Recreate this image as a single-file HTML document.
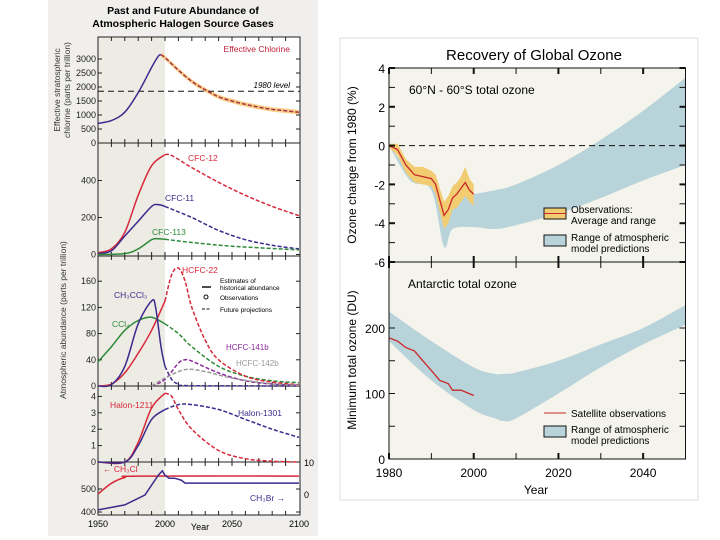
<!DOCTYPE html>
<html><head><meta charset="utf-8"><style>
body{margin:0;background:#fff;width:720px;height:540px;overflow:hidden;font-family:"Liberation Sans",sans-serif}
svg{position:absolute;left:0;top:0}
</style></head><body>
<svg id="c" width="720" height="540"></svg>
<script>
// ---------- Left chart data ----------
const clHistYears=[1950,1960,1970,1980,1990,1995,1997];
const clHistVals=[700,800,1100,1800,2700,3100,3150];
const clFutYears=[1997,2000,2010,2020,2030,2040,2050,2060,2070,2080,2090,2100];
const clFutVals=[3150,3050,2600,2200,1900,1650,1500,1380,1280,1200,1150,1100];
const cfc12Years=[1950,1960,1970,1980,1990,2000,2005,2020,2040,2060,2080,2100];
const cfc12Vals=[10,30,120,320,480,540,535,470,390,320,260,210];
const cfc11Years=[1950,1960,1970,1980,1990,1995,2000,2020,2040,2060,2080,2100];
const cfc11Vals=[5,20,100,180,260,270,260,200,130,80,50,30];
const cfc113Years=[1950,1970,1980,1990,1995,2000,2020,2050,2100];
const cfc113Vals=[0,5,30,80,85,82,65,45,25];
const hcfc22Years=[1950,1960,1970,1980,1990,2000,2005,2010,2015,2020,2030,2040,2060,2080,2100];
const hcfc22Vals=[0,3,20,50,85,130,170,180,160,120,70,40,15,6,2];
const ch3ccl3Years=[1950,1960,1970,1980,1990,1993,1997,2000,2005,2010,2020,2100];
const ch3ccl3Vals=[0,2,30,95,130,120,60,30,10,3,0.5,0];
const ccl4Years=[1950,1960,1970,1980,1990,2000,2010,2020,2040,2060,2080,2100];
const ccl4Vals=[37,60,85,100,105,95,80,60,30,15,8,5];
const h141Years=[1990,2000,2010,2015,2020,2040,2060,2080,2100];
const h141Vals=[0,10,35,40,38,20,8,3,1];
const h142Years=[1990,2000,2015,2030,2050,2080,2100];
const h142Vals=[0,12,25,22,12,3,1];
const h1211Years=[1950,1970,1980,1990,2000,2005,2010,2020,2040,2060,2080,2100];
const h1211Vals=[0,0,1.2,3.3,4.2,4.0,3.2,2.0,0.7,0.2,0.05,0];
const h1301Years=[1950,1970,1980,1990,2000,2010,2020,2040,2060,2080,2100];
const h1301Vals=[0,0,1,2.6,3.2,3.5,3.5,3.2,2.6,2.0,1.5];
const ch3clYears=[1950,1960,1970,1980,2100];
const ch3clVals=[478,525,550,556,556];
const ch3brYears=[1950,1970,1985,1995,1998,2000,2003,2007,2012,2015,2100];
const ch3brVals=[-4.5,-3,0,6,7.3,6,5.1,5.1,4.5,3.6,3.6];
// ---------- Right chart data ----------
const obsYears=[1980,1982,1984,1986,1988,1990,1991,1992,1993,1994,1995,1996,1997,1998,1999,2000];
const obsAvg=[0,-0.2,-1,-1.5,-1.6,-1.7,-2,-2.8,-3.6,-3.3,-2.7,-2.5,-2.2,-1.9,-2.3,-2.5];
const obsHi=[0.1,0.1,-0.7,-1.1,-1.1,-1.3,-1.5,-2.2,-2.9,-2.6,-2.1,-1.9,-1.6,-1.1,-1.7,-2];
const obsLo=[-0.1,-0.5,-1.4,-1.9,-2.0,-2.1,-2.5,-3.4,-4.3,-4.0,-3.3,-3.2,-2.9,-2.6,-2.9,-3.1];
const modYears=[1980,1985,1990,1993,1995,2000,2005,2010,2020,2030,2040,2050];
const modHi=[0,-1.3,-1.8,-3.3,-2.8,-2.5,-2.3,-2,-1.0,0.3,1.8,3.5];
const modLo=[0,-1.8,-2.3,-5.2,-4.3,-4.2,-4.3,-4.1,-3.5,-2.7,-1.8,-1.0];
const antYears=[1980,1990,2000,2005,2007,2010,2020,2030,2040,2050];
const antHi=[225,180,140,130,130,132,150,175,200,235];
const antLo=[180,120,75,62,58,62,100,140,175,205];
const satYears=[1980,1982,1984,1986,1988,1990,1992,1994,1995,1997,2000];
const satVals=[185,180,170,165,150,135,120,115,105,105,97];

const S=document.getElementById('c');const NS='http://www.w3.org/2000/svg';
function el(t,a,p){const e=document.createElementNS(NS,t);for(const k in a)e.setAttribute(k,a[k]);(p||S).appendChild(e);return e;}
function txt(x,y,s,a){const e=el('text',Object.assign({x:x,y:y},a||{}));e.textContent=s;return e;}
function pathOf(ys,vs,fx,fy){return ys.map((y,i)=>(i?'L':'M')+fx(y).toFixed(1)+' '+fy(vs[i]).toFixed(1)).join(' ');}
function smoothPts(pts,move){let d=move?'M'+pts[0][0].toFixed(1)+' '+pts[0][1].toFixed(1):'L'+pts[0][0].toFixed(1)+' '+pts[0][1].toFixed(1);
 for(let i=0;i<pts.length-1;i++){const p0=pts[Math.max(0,i-1)],p1=pts[i],p2=pts[i+1],p3=pts[Math.min(pts.length-1,i+2)];
 const c1=[p1[0]+(p2[0]-p0[0])/6,p1[1]+(p2[1]-p0[1])/6],c2=[p2[0]-(p3[0]-p1[0])/6,p2[1]-(p3[1]-p1[1])/6];
 d+=' C'+c1.map(v=>v.toFixed(1)).join(' ')+' '+c2.map(v=>v.toFixed(1)).join(' ')+' '+p2[0].toFixed(1)+' '+p2[1].toFixed(1);}
 return d;}
function smooth(ys,vs,fx,fy){return smoothPts(ys.map((y,i)=>[fx(y),fy(vs[i])]),true);}
function band(ys,hi,lo,fx,fy){return smooth(ys,hi,fx,fy)+' '+smoothPts(ys.map((y,i)=>[fx(y),fy(lo[i])]).reverse(),false)+'Z';}
function bandRaw(ys,hi,lo,fx,fy){return pathOf(ys,hi,fx,fy)+' '+ys.slice().reverse().map((y,i)=>'L'+fx(y).toFixed(1)+' '+fy(lo[ys.length-1-i]).toFixed(1)).join(' ')+'Z';}

// ===== Left =====
let r=el('rect',{x:48,y:0,width:270,height:536,fill:'#f0efed'});

el('rect',{x:98,y:37,width:202,height:478,fill:'#fff'});
el('rect',{x:98,y:37,width:67,height:478,fill:'#ecebe4'});
const lx=y=>98+(y-1950)*67/50;
let t=txt(183,14,'Past and Future Abundance of',{'font-size':10.5,'font-weight':'bold','text-anchor':'middle'});

txt(183,27,'Atmospheric Halogen Source Gases',{'font-size':10.5,'font-weight':'bold','text-anchor':'middle'});
const panels=[[37,143],[143,256],[256,386],[386,462],[462,515]];
panels.forEach((p,i)=>{let b=el('rect',{x:98,y:p[0],width:202,height:p[1]-p[0],fill:'none',stroke:'#222','stroke-width':1});

for(let yr=1960;yr<2100;yr+=10){el('line',{x1:lx(yr),x2:lx(yr),y1:p[0],y2:p[0]+4,stroke:'#222'});el('line',{x1:lx(yr),x2:lx(yr),y1:p[1],y2:p[1]-4,stroke:'#222'});}});
function yticks(vals,fy,x){vals.forEach(v=>{txt(x,fy(v)+3,String(v),{'font-size':9,'text-anchor':'end',fill:'#222'});el('line',{x1:98,x2:102,y1:fy(v),y2:fy(v),stroke:'#222'});el('line',{x1:300,x2:296,y1:fy(v),y2:fy(v),stroke:'#222'});});}
const f1=v=>143-v*14/500, f2=v=>254.5-v*37/200, f3=v=>386-v*26.2/40, f4=v=>462-v*16.4, f5=v=>512-(v-400)*23/100, f5r=v=>495-v*3.3;
yticks([0,500,1000,1500,2000,2500,3000],f1,96);
yticks([0,200,400],f2,96);
yticks([0,40,80,120,160],f3,96);
yticks([0,1,2,3,4],f4,96);
yticks([400,500],f5,96);
txt(304,466,'10',{'font-size':9});txt(304,498,'0',{'font-size':9});
[1950,2000,2050,2100].forEach(y=>txt(lx(y),527,String(y),{'font-size':9,'text-anchor':'middle'}));
t=txt(200,530,'Year',{'font-size':9,'text-anchor':'middle'});
txt(60,90,'Effective stratospheric',{'font-size':8.5,transform:'rotate(-90 60 90)','text-anchor':'middle',fill:'#333'});
txt(70,90,'chlorine (parts per trillion)',{'font-size':8.5,transform:'rotate(-90 70 90)','text-anchor':'middle',fill:'#333'});
txt(66,320,'Atmospheric abundance (parts per trillion)',{'font-size':8.5,transform:'rotate(-90 66 320)','text-anchor':'middle',fill:'#333'});
el('path',{d:band(clFutYears,clFutVals.map(v=>v+80),clFutVals.map(v=>v-80),lx,f1),fill:'#f7c46a',opacity:.8});
el('line',{x1:98,x2:300,y1:f1(1850),y2:f1(1850),stroke:'#111','stroke-dasharray':'6 4'});
txt(290,f1(1850)-3,'1980 level',{'font-size':8,'font-style':'italic','text-anchor':'end'});
function ln(ys,vs,fy,c,dash,name){let p=el('path',{d:smooth(ys,vs,lx,fy),fill:'none',stroke:c,'stroke-width':1.5,'stroke-dasharray':dash||'none'});}
function split(ys,vs,fy,c,name,cut){const h=[],hv=[],f=[],fv=[];ys.forEach((y,i)=>{if(y<=cut){h.push(y);hv.push(vs[i]);}if(y>=cut){f.push(y);fv.push(vs[i]);}});ln(h,hv,fy,c,null,name+'-historical');ln(f,fv,fy,c,'4 2',name+'-projection');}
ln(clHistYears,clHistVals,f1,'#3c2a8c',null,'effective-chlorine-historical');
ln(clFutYears,clFutVals,f1,'#a8324a','4 2','effective-chlorine-projection');
txt(290,52,'Effective Chlorine',{'font-size':8.5,fill:'#c0203a','text-anchor':'end'});
split(cfc12Years,cfc12Vals,f2,'#d8283a','cfc12-line',2000);
split(cfc11Years,cfc11Vals,f2,'#3c2a8c','cfc11-line',2000);
split(cfc113Years,cfc113Vals,f2,'#2e8a3a','cfc113-line',2000);
txt(188,161,'CFC-12',{'font-size':8.5,fill:'#d8283a'});
txt(165,201,'CFC-11',{'font-size':8.5,fill:'#3c2a8c'});
txt(152,235,'CFC-113',{'font-size':8.5,fill:'#2e8a3a'});
split(ccl4Years,ccl4Vals,f3,'#2e8a3a','ccl4-line',2000);
split(hcfc22Years,hcfc22Vals,f3,'#d8283a','hcfc22-line',2000);
split(ch3ccl3Years,ch3ccl3Vals,f3,'#3c2a8c','ch3ccl3-line',2000);
ln(h141Years,h141Vals,f3,'#8a2a9a','4 2','hcfc141b-line');
ln(h142Years,h142Vals,f3,'#999','4 2','hcfc142b-line');
txt(182,273,'HCFC-22',{'font-size':8.5,fill:'#d8283a'});
txt(114,298,'CH\u2083CCl\u2083',{'font-size':8.5,fill:'#3c2a8c'});
txt(112,327,'CCl\u2084',{'font-size':8.5,fill:'#2e8a3a'});
txt(226,350,'HCFC-141b',{'font-size':8,fill:'#8a2a9a'});
txt(236,366,'HCFC-142b',{'font-size':8,fill:'#999'});
el('line',{x1:202,x2:211,y1:287,y2:287,stroke:'#111','stroke-width':1.5});
txt(220,283,'Estimates of',{'font-size':6.5});txt(220,290,'historical abundance',{'font-size':6.5});
el('circle',{cx:206,cy:297,r:2,fill:'none',stroke:'#111'});txt(220,300,'Observations',{'font-size':6.5});
el('line',{x1:202,x2:211,y1:309,y2:309,stroke:'#111','stroke-dasharray':'3 1.5'});txt(220,312,'Future projections',{'font-size':6.5});
split(h1211Years,h1211Vals,f4,'#d8283a','halon1211-line',2000);
split(h1301Years,h1301Vals,f4,'#3c2a8c','halon1301-line',2000);
txt(110,408,'Halon-1211',{'font-size':8.5,fill:'#d8283a'});
txt(238,416,'Halon-1301',{'font-size':8.5,fill:'#3c2a8c'});
ln(ch3clYears,ch3clVals,f5,'#d8283a',null,'ch3cl-line');
let p=el('path',{d:pathOf(ch3brYears,ch3brVals,lx,f5r),fill:'none',stroke:'#3c2a8c','stroke-width':1.5});
txt(103,472,'\u2190 CH\u2083Cl',{'font-size':8.5,fill:'#d8283a'});
txt(250,501,'CH\u2083Br \u2192',{'font-size':8.5,fill:'#3c2a8c'});

// ===== Right =====
r=el('rect',{x:340,y:38,width:358,height:462,fill:'#fff',stroke:'#ddd'});

const rx=y=>389+(y-1980)*(685.5-389)/70;
const g1=v=>68+(4-v)*19.4, g2=v=>459-v*0.655;
el('rect',{x:389,y:68,width:296.5,height:391,fill:'#f4f4ec'});
t=txt(534,60,'Recovery of Global Ozone',{'font-size':15,'text-anchor':'middle'});
let b1=el('path',{d:band(modYears,modHi,modLo,rx,g1),fill:'#b9d3da'});
el('path',{d:bandRaw(obsYears,obsHi,obsLo,rx,g1),fill:'#f2cc70'});
el('line',{x1:389,x2:685.5,y1:g1(0),y2:g1(0),stroke:'#111','stroke-dasharray':'6 4'});
p=el('path',{d:pathOf(obsYears,obsAvg,rx,g1),fill:'none',stroke:'#c8282a','stroke-width':1.3});
let b2=el('path',{d:band(antYears,antHi,antLo,rx,g2),fill:'#b9d3da'});
p=el('path',{d:pathOf(satYears,satVals,rx,g2),fill:'none',stroke:'#c8282a','stroke-width':1.3});
el('rect',{x:389,y:68,width:296.5,height:194,fill:'none',stroke:'#111'});
el('rect',{x:389,y:262,width:296.5,height:197,fill:'none',stroke:'#111'});
[1980,1990,2000,2010,2020,2030,2040,2050].forEach(y=>{const w=(y%20==0)?2:1;[[68,74],[262,256],[262,268],[459,453]].forEach(q=>el('line',{x1:rx(y),x2:rx(y),y1:q[0],y2:q[1],stroke:'#111','stroke-width':w}));});
[4,3,2,1,0,-1,-2,-3,-4,-5,-6].forEach(v=>{const w=v%2==0?2:1;el('line',{x1:389,x2:395,y1:g1(v),y2:g1(v),stroke:'#111','stroke-width':w});el('line',{x1:685.5,x2:679.5,y1:g1(v),y2:g1(v),stroke:'#111','stroke-width':w});if(v%2==0)txt(385,g1(v)+5,String(v),{'font-size':12,'text-anchor':'end'});});
[0,50,100,150,200].forEach(v=>{el('line',{x1:389,x2:395,y1:g2(v),y2:g2(v),stroke:'#111'});el('line',{x1:685.5,x2:679.5,y1:g2(v),y2:g2(v),stroke:'#111'});if(v%100==0)txt(385,g2(v)+5,String(v),{'font-size':12,'text-anchor':'end'});});
[1980,2000,2020,2040].forEach(y=>txt(rx(y),477,String(y),{'font-size':12,'text-anchor':'middle'}));
t=txt(536,494,'Year',{'font-size':12,'text-anchor':'middle'});
txt(356,165,'Ozone change from 1980 (%)',{'font-size':12,transform:'rotate(-90 356 165)','text-anchor':'middle'});
txt(356,360,'Minimum total ozone (DU)',{'font-size':12,transform:'rotate(-90 356 360)','text-anchor':'middle'});
txt(409,94,'60\u00b0N - 60\u00b0S total ozone',{'font-size':12});
txt(408,288,'Antarctic total ozone',{'font-size':12});
el('rect',{x:544,y:208,width:22,height:11,fill:'#f2cc70',stroke:'#111'});el('line',{x1:544,x2:566,y1:213.5,y2:213.5,stroke:'#c8282a'});
txt(571,213,'Observations:',{'font-size':10});txt(571,224,'Average and range',{'font-size':10});
el('rect',{x:544,y:235,width:22,height:11,fill:'#b9d3da',stroke:'#111'});
txt(571,241,'Range of atmospheric',{'font-size':10});txt(571,252,'model predictions',{'font-size':10});
el('line',{x1:544,x2:566,y1:413,y2:413,stroke:'#c8282a'});
txt(571,417,'Satellite observations',{'font-size':10});
el('rect',{x:544,y:426,width:22,height:11,fill:'#b9d3da',stroke:'#111'});
txt(571,433,'Range of atmospheric',{'font-size':10});txt(571,444,'model predictions',{'font-size':10});
</script>
</body></html>
